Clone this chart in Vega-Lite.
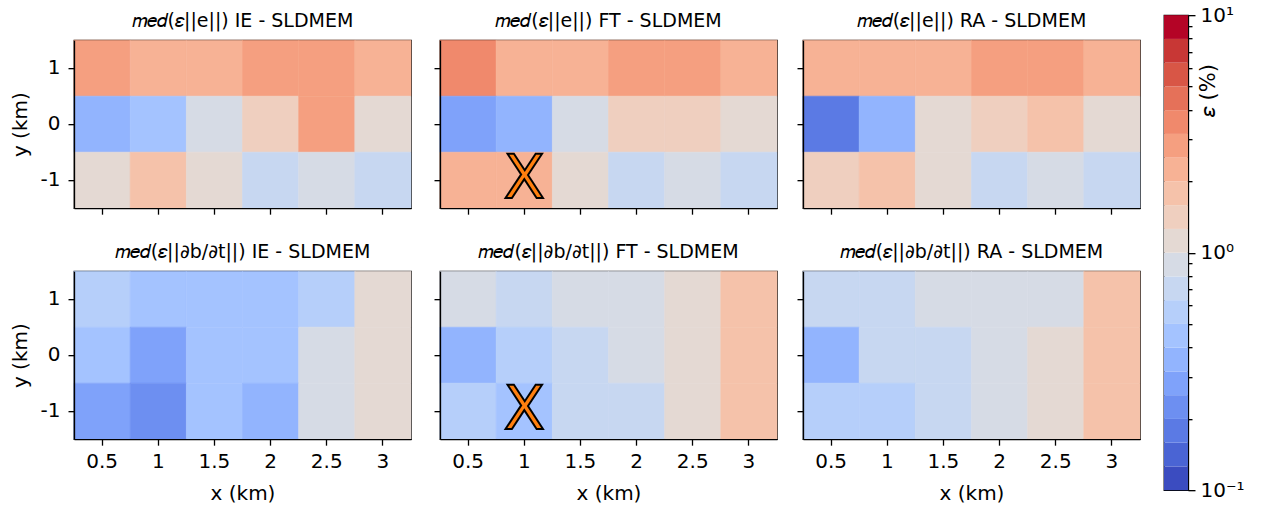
{
  "$schema": "https://vega.github.io/schema/vega-lite/v6.json",
  "padding": {"left": 9, "top": 4, "right": 5, "bottom": 0},
  "datasets": {
    "cells": [
      {"q":"e","m":"IE","x":0.5,"y":1,"v":2.85},{"q":"e","m":"IE","x":1,"y":1,"v":2.2},{"q":"e","m":"IE","x":1.5,"y":1,"v":2.3},{"q":"e","m":"IE","x":2,"y":1,"v":2.75},{"q":"e","m":"IE","x":2.5,"y":1,"v":2.9},{"q":"e","m":"IE","x":3,"y":1,"v":2.25},
      {"q":"e","m":"IE","x":0.5,"y":0,"v":0.36},{"q":"e","m":"IE","x":1,"y":0,"v":0.45},{"q":"e","m":"IE","x":1.5,"y":0,"v":0.9},{"q":"e","m":"IE","x":2,"y":0,"v":1.4},{"q":"e","m":"IE","x":2.5,"y":0,"v":2.7},{"q":"e","m":"IE","x":3,"y":0,"v":1.1},
      {"q":"e","m":"IE","x":0.5,"y":-1,"v":1.1},{"q":"e","m":"IE","x":1,"y":-1,"v":1.75},{"q":"e","m":"IE","x":1.5,"y":-1,"v":1.15},{"q":"e","m":"IE","x":2,"y":-1,"v":0.7},{"q":"e","m":"IE","x":2.5,"y":-1,"v":0.9},{"q":"e","m":"IE","x":3,"y":-1,"v":0.72},
      {"q":"e","m":"FT","x":0.5,"y":1,"v":3.5},{"q":"e","m":"FT","x":1,"y":1,"v":2.2},{"q":"e","m":"FT","x":1.5,"y":1,"v":2.3},{"q":"e","m":"FT","x":2,"y":1,"v":2.8},{"q":"e","m":"FT","x":2.5,"y":1,"v":2.85},{"q":"e","m":"FT","x":3,"y":1,"v":2.3},
      {"q":"e","m":"FT","x":0.5,"y":0,"v":0.29},{"q":"e","m":"FT","x":1,"y":0,"v":0.37},{"q":"e","m":"FT","x":1.5,"y":0,"v":0.88},{"q":"e","m":"FT","x":2,"y":0,"v":1.45},{"q":"e","m":"FT","x":2.5,"y":0,"v":1.4},{"q":"e","m":"FT","x":3,"y":0,"v":1.1},
      {"q":"e","m":"FT","x":0.5,"y":-1,"v":2.3},{"q":"e","m":"FT","x":1,"y":-1,"v":2.25},{"q":"e","m":"FT","x":1.5,"y":-1,"v":1.1},{"q":"e","m":"FT","x":2,"y":-1,"v":0.7},{"q":"e","m":"FT","x":2.5,"y":-1,"v":0.9},{"q":"e","m":"FT","x":3,"y":-1,"v":0.72},
      {"q":"e","m":"RA","x":0.5,"y":1,"v":2.3},{"q":"e","m":"RA","x":1,"y":1,"v":2.25},{"q":"e","m":"RA","x":1.5,"y":1,"v":2.2},{"q":"e","m":"RA","x":2,"y":1,"v":2.8},{"q":"e","m":"RA","x":2.5,"y":1,"v":2.9},{"q":"e","m":"RA","x":3,"y":1,"v":2.3},
      {"q":"e","m":"RA","x":0.5,"y":0,"v":0.18},{"q":"e","m":"RA","x":1,"y":0,"v":0.36},{"q":"e","m":"RA","x":1.5,"y":0,"v":1.12},{"q":"e","m":"RA","x":2,"y":0,"v":1.4},{"q":"e","m":"RA","x":2.5,"y":0,"v":1.7},{"q":"e","m":"RA","x":3,"y":0,"v":1.1},
      {"q":"e","m":"RA","x":0.5,"y":-1,"v":1.45},{"q":"e","m":"RA","x":1,"y":-1,"v":1.8},{"q":"e","m":"RA","x":1.5,"y":-1,"v":1.1},{"q":"e","m":"RA","x":2,"y":-1,"v":0.7},{"q":"e","m":"RA","x":2.5,"y":-1,"v":0.88},{"q":"e","m":"RA","x":3,"y":-1,"v":0.72},
      {"q":"b","m":"IE","x":0.5,"y":1,"v":0.58},{"q":"b","m":"IE","x":1,"y":1,"v":0.46},{"q":"b","m":"IE","x":1.5,"y":1,"v":0.45},{"q":"b","m":"IE","x":2,"y":1,"v":0.46},{"q":"b","m":"IE","x":2.5,"y":1,"v":0.56},{"q":"b","m":"IE","x":3,"y":1,"v":1.15},
      {"q":"b","m":"IE","x":0.5,"y":0,"v":0.44},{"q":"b","m":"IE","x":1,"y":0,"v":0.28},{"q":"b","m":"IE","x":1.5,"y":0,"v":0.46},{"q":"b","m":"IE","x":2,"y":0,"v":0.45},{"q":"b","m":"IE","x":2.5,"y":0,"v":0.9},{"q":"b","m":"IE","x":3,"y":0,"v":1.12},
      {"q":"b","m":"IE","x":0.5,"y":-1,"v":0.29},{"q":"b","m":"IE","x":1,"y":-1,"v":0.23},{"q":"b","m":"IE","x":1.5,"y":-1,"v":0.45},{"q":"b","m":"IE","x":2,"y":-1,"v":0.36},{"q":"b","m":"IE","x":2.5,"y":-1,"v":0.88},{"q":"b","m":"IE","x":3,"y":-1,"v":1.13},
      {"q":"b","m":"FT","x":0.5,"y":1,"v":0.9},{"q":"b","m":"FT","x":1,"y":1,"v":0.72},{"q":"b","m":"FT","x":1.5,"y":1,"v":0.88},{"q":"b","m":"FT","x":2,"y":1,"v":0.89},{"q":"b","m":"FT","x":2.5,"y":1,"v":1.1},{"q":"b","m":"FT","x":3,"y":1,"v":1.75},
      {"q":"b","m":"FT","x":0.5,"y":0,"v":0.36},{"q":"b","m":"FT","x":1,"y":0,"v":0.57},{"q":"b","m":"FT","x":1.5,"y":0,"v":0.7},{"q":"b","m":"FT","x":2,"y":0,"v":0.9},{"q":"b","m":"FT","x":2.5,"y":0,"v":1.12},{"q":"b","m":"FT","x":3,"y":0,"v":1.8},
      {"q":"b","m":"FT","x":0.5,"y":-1,"v":0.56},{"q":"b","m":"FT","x":1,"y":-1,"v":0.46},{"q":"b","m":"FT","x":1.5,"y":-1,"v":0.7},{"q":"b","m":"FT","x":2,"y":-1,"v":0.71},{"q":"b","m":"FT","x":2.5,"y":-1,"v":1.1},{"q":"b","m":"FT","x":3,"y":-1,"v":1.78},
      {"q":"b","m":"RA","x":0.5,"y":1,"v":0.7},{"q":"b","m":"RA","x":1,"y":1,"v":0.72},{"q":"b","m":"RA","x":1.5,"y":1,"v":0.9},{"q":"b","m":"RA","x":2,"y":1,"v":0.88},{"q":"b","m":"RA","x":2.5,"y":1,"v":0.9},{"q":"b","m":"RA","x":3,"y":1,"v":1.75},
      {"q":"b","m":"RA","x":0.5,"y":0,"v":0.36},{"q":"b","m":"RA","x":1,"y":0,"v":0.7},{"q":"b","m":"RA","x":1.5,"y":0,"v":0.72},{"q":"b","m":"RA","x":2,"y":0,"v":0.9},{"q":"b","m":"RA","x":2.5,"y":0,"v":1.1},{"q":"b","m":"RA","x":3,"y":0,"v":1.8},
      {"q":"b","m":"RA","x":0.5,"y":-1,"v":0.57},{"q":"b","m":"RA","x":1,"y":-1,"v":0.56},{"q":"b","m":"RA","x":1.5,"y":-1,"v":0.7},{"q":"b","m":"RA","x":2,"y":-1,"v":0.88},{"q":"b","m":"RA","x":2.5,"y":-1,"v":1.1},{"q":"b","m":"RA","x":3,"y":-1,"v":1.77}
    ],
    "markers": [{"x": 1, "y": -1, "label": "X"}],
    "levels": [
      {"lo":0.1,"hi":0.12589,"mid":0.1122},{"lo":0.12589,"hi":0.15849,"mid":0.1413},{"lo":0.15849,"hi":0.19953,"mid":0.1778},{"lo":0.19953,"hi":0.25119,"mid":0.2239},
      {"lo":0.25119,"hi":0.31623,"mid":0.2818},{"lo":0.31623,"hi":0.39811,"mid":0.3548},{"lo":0.39811,"hi":0.50119,"mid":0.4467},{"lo":0.50119,"hi":0.63096,"mid":0.5623},
      {"lo":0.63096,"hi":0.79433,"mid":0.7079},{"lo":0.79433,"hi":1,"mid":0.8913},{"lo":1,"hi":1.25893,"mid":1.122},{"lo":1.25893,"hi":1.58489,"mid":1.413},
      {"lo":1.58489,"hi":1.99526,"mid":1.778},{"lo":1.99526,"hi":2.51189,"mid":2.239},{"lo":2.51189,"hi":3.16228,"mid":2.818},{"lo":3.16228,"hi":3.98107,"mid":3.548},
      {"lo":3.98107,"hi":5.01187,"mid":4.467},{"lo":5.01187,"hi":6.30957,"mid":5.623},{"lo":6.30957,"hi":7.94328,"mid":7.079},{"lo":7.94328,"hi":10,"mid":8.913}
    ]
  },
  "hconcat": [
    {
      "vconcat": [
        {
          "hconcat": [
            {
              "width": 337, "height": 168,
              "title": "𝑚𝑒𝑑(𝜀||e||) IE - SLDMEM",
              "data": {"name": "cells"},
              "transform": [{"filter": "datum.q == 'e' && datum.m == 'IE'"}],
              "mark": {"type": "rect", "strokeWidth": 0.6},
              "encoding": {
                "x": {"field": "x", "type": "ordinal", "scale": {"paddingInner": 0, "paddingOuter": 0}, "axis": {"labels": false, "title": null}},
                "y": {"field": "y", "type": "ordinal", "sort": "descending", "scale": {"paddingInner": 0, "paddingOuter": 0}, "axis": {"title": "y (km)"}},
                "color": {"field": "v", "type": "quantitative", "legend": null,
                  "scale": {"type": "threshold", "domain": [0.12589,0.15849,0.19953,0.25119,0.31623,0.39811,0.50119,0.63096,0.79433,1,1.25893,1.58489,1.99526,2.51189,3.16228,3.98107,5.01187,6.30957,7.94328],
                  "range": ["#3b4cc0","#4a64d4","#5b7ae4","#6d8ff1","#7fa2fa","#92b4fe","#a4c3ff","#b6cffa","#c7d7f1","#d6dbe5","#e4d9d3","#efcfbf","#f5c2aa","#f7b295","#f59f80","#f0896c","#e57159","#d85646","#c83735","#b40426"]}},
                "stroke": {"field": "v", "type": "quantitative", "legend": null,
                  "scale": {"type": "threshold", "domain": [0.12589,0.15849,0.19953,0.25119,0.31623,0.39811,0.50119,0.63096,0.79433,1,1.25893,1.58489,1.99526,2.51189,3.16228,3.98107,5.01187,6.30957,7.94328],
                  "range": ["#3b4cc0","#4a64d4","#5b7ae4","#6d8ff1","#7fa2fa","#92b4fe","#a4c3ff","#b6cffa","#c7d7f1","#d6dbe5","#e4d9d3","#efcfbf","#f5c2aa","#f7b295","#f59f80","#f0896c","#e57159","#d85646","#c83735","#b40426"]}}
              }
            },
            {
              "hconcat": [
                {
                  "width": 337, "height": 168,
                  "title": "𝑚𝑒𝑑(𝜀||e||) FT - SLDMEM",
                  "layer": [
                    {
                      "data": {"name": "cells"},
                      "transform": [{"filter": "datum.q == 'e' && datum.m == 'FT'"}],
                      "mark": {"type": "rect", "strokeWidth": 0.6},
                      "encoding": {
                        "x": {"field": "x", "type": "ordinal", "scale": {"paddingInner": 0, "paddingOuter": 0}, "axis": {"labels": false, "title": null}},
                        "y": {"field": "y", "type": "ordinal", "sort": "descending", "scale": {"paddingInner": 0, "paddingOuter": 0}, "axis": {"labels": false, "title": null}},
                        "color": {"field": "v", "type": "quantitative", "legend": null,
                          "scale": {"type": "threshold", "domain": [0.12589,0.15849,0.19953,0.25119,0.31623,0.39811,0.50119,0.63096,0.79433,1,1.25893,1.58489,1.99526,2.51189,3.16228,3.98107,5.01187,6.30957,7.94328],
                          "range": ["#3b4cc0","#4a64d4","#5b7ae4","#6d8ff1","#7fa2fa","#92b4fe","#a4c3ff","#b6cffa","#c7d7f1","#d6dbe5","#e4d9d3","#efcfbf","#f5c2aa","#f7b295","#f59f80","#f0896c","#e57159","#d85646","#c83735","#b40426"]}},
                        "stroke": {"field": "v", "type": "quantitative", "legend": null,
                          "scale": {"type": "threshold", "domain": [0.12589,0.15849,0.19953,0.25119,0.31623,0.39811,0.50119,0.63096,0.79433,1,1.25893,1.58489,1.99526,2.51189,3.16228,3.98107,5.01187,6.30957,7.94328],
                          "range": ["#3b4cc0","#4a64d4","#5b7ae4","#6d8ff1","#7fa2fa","#92b4fe","#a4c3ff","#b6cffa","#c7d7f1","#d6dbe5","#e4d9d3","#efcfbf","#f5c2aa","#f7b295","#f59f80","#f0896c","#e57159","#d85646","#c83735","#b40426"]}}
                      }
                    },
                    {
                      "data": {"name": "markers"},
                      "mark": {"type": "text", "fontSize": 60, "fill": "#ff7f0e", "stroke": "black", "strokeWidth": 2, "baseline": "middle", "align": "center"},
                      "encoding": {
                        "x": {"field": "x", "type": "ordinal"},
                        "y": {"field": "y", "type": "ordinal", "sort": "descending"},
                        "text": {"field": "label"}
                      }
                    }
                  ]
                },
                {
                  "width": 337, "height": 168,
                  "title": "𝑚𝑒𝑑(𝜀||e||) RA - SLDMEM",
                  "data": {"name": "cells"},
                  "transform": [{"filter": "datum.q == 'e' && datum.m == 'RA'"}],
                  "mark": {"type": "rect", "strokeWidth": 0.6},
                  "encoding": {
                    "x": {"field": "x", "type": "ordinal", "scale": {"paddingInner": 0, "paddingOuter": 0}, "axis": {"labels": false, "title": null}},
                    "y": {"field": "y", "type": "ordinal", "sort": "descending", "scale": {"paddingInner": 0, "paddingOuter": 0}, "axis": {"labels": false, "title": null}},
                    "color": {"field": "v", "type": "quantitative", "legend": null,
                      "scale": {"type": "threshold", "domain": [0.12589,0.15849,0.19953,0.25119,0.31623,0.39811,0.50119,0.63096,0.79433,1,1.25893,1.58489,1.99526,2.51189,3.16228,3.98107,5.01187,6.30957,7.94328],
                      "range": ["#3b4cc0","#4a64d4","#5b7ae4","#6d8ff1","#7fa2fa","#92b4fe","#a4c3ff","#b6cffa","#c7d7f1","#d6dbe5","#e4d9d3","#efcfbf","#f5c2aa","#f7b295","#f59f80","#f0896c","#e57159","#d85646","#c83735","#b40426"]}},
                    "stroke": {"field": "v", "type": "quantitative", "legend": null,
                      "scale": {"type": "threshold", "domain": [0.12589,0.15849,0.19953,0.25119,0.31623,0.39811,0.50119,0.63096,0.79433,1,1.25893,1.58489,1.99526,2.51189,3.16228,3.98107,5.01187,6.30957,7.94328],
                      "range": ["#3b4cc0","#4a64d4","#5b7ae4","#6d8ff1","#7fa2fa","#92b4fe","#a4c3ff","#b6cffa","#c7d7f1","#d6dbe5","#e4d9d3","#efcfbf","#f5c2aa","#f7b295","#f59f80","#f0896c","#e57159","#d85646","#c83735","#b40426"]}}
                  }
                }
              ],
              "spacing": 17
            }
          ],
          "spacing": 20
        },
        {
          "hconcat": [
            {
              "width": 337, "height": 168,
              "title": "𝑚𝑒𝑑(𝜀||∂b/∂t||) IE - SLDMEM",
              "data": {"name": "cells"},
              "transform": [{"filter": "datum.q == 'b' && datum.m == 'IE'"}],
              "mark": {"type": "rect", "strokeWidth": 0.6},
              "encoding": {
                "x": {"field": "x", "type": "ordinal", "scale": {"paddingInner": 0, "paddingOuter": 0}, "axis": {"title": "x (km)"}},
                "y": {"field": "y", "type": "ordinal", "sort": "descending", "scale": {"paddingInner": 0, "paddingOuter": 0}, "axis": {"title": "y (km)"}},
                "color": {"field": "v", "type": "quantitative", "legend": null,
                  "scale": {"type": "threshold", "domain": [0.12589,0.15849,0.19953,0.25119,0.31623,0.39811,0.50119,0.63096,0.79433,1,1.25893,1.58489,1.99526,2.51189,3.16228,3.98107,5.01187,6.30957,7.94328],
                  "range": ["#3b4cc0","#4a64d4","#5b7ae4","#6d8ff1","#7fa2fa","#92b4fe","#a4c3ff","#b6cffa","#c7d7f1","#d6dbe5","#e4d9d3","#efcfbf","#f5c2aa","#f7b295","#f59f80","#f0896c","#e57159","#d85646","#c83735","#b40426"]}},
                "stroke": {"field": "v", "type": "quantitative", "legend": null,
                  "scale": {"type": "threshold", "domain": [0.12589,0.15849,0.19953,0.25119,0.31623,0.39811,0.50119,0.63096,0.79433,1,1.25893,1.58489,1.99526,2.51189,3.16228,3.98107,5.01187,6.30957,7.94328],
                  "range": ["#3b4cc0","#4a64d4","#5b7ae4","#6d8ff1","#7fa2fa","#92b4fe","#a4c3ff","#b6cffa","#c7d7f1","#d6dbe5","#e4d9d3","#efcfbf","#f5c2aa","#f7b295","#f59f80","#f0896c","#e57159","#d85646","#c83735","#b40426"]}}
              }
            },
            {
              "hconcat": [
                {
                  "width": 337, "height": 168,
                  "title": "𝑚𝑒𝑑(𝜀||∂b/∂t||) FT - SLDMEM",
                  "layer": [
                    {
                      "data": {"name": "cells"},
                      "transform": [{"filter": "datum.q == 'b' && datum.m == 'FT'"}],
                      "mark": {"type": "rect", "strokeWidth": 0.6},
                      "encoding": {
                        "x": {"field": "x", "type": "ordinal", "scale": {"paddingInner": 0, "paddingOuter": 0}, "axis": {"title": "x (km)"}},
                        "y": {"field": "y", "type": "ordinal", "sort": "descending", "scale": {"paddingInner": 0, "paddingOuter": 0}, "axis": {"labels": false, "title": null}},
                        "color": {"field": "v", "type": "quantitative", "legend": null,
                          "scale": {"type": "threshold", "domain": [0.12589,0.15849,0.19953,0.25119,0.31623,0.39811,0.50119,0.63096,0.79433,1,1.25893,1.58489,1.99526,2.51189,3.16228,3.98107,5.01187,6.30957,7.94328],
                          "range": ["#3b4cc0","#4a64d4","#5b7ae4","#6d8ff1","#7fa2fa","#92b4fe","#a4c3ff","#b6cffa","#c7d7f1","#d6dbe5","#e4d9d3","#efcfbf","#f5c2aa","#f7b295","#f59f80","#f0896c","#e57159","#d85646","#c83735","#b40426"]}},
                        "stroke": {"field": "v", "type": "quantitative", "legend": null,
                          "scale": {"type": "threshold", "domain": [0.12589,0.15849,0.19953,0.25119,0.31623,0.39811,0.50119,0.63096,0.79433,1,1.25893,1.58489,1.99526,2.51189,3.16228,3.98107,5.01187,6.30957,7.94328],
                          "range": ["#3b4cc0","#4a64d4","#5b7ae4","#6d8ff1","#7fa2fa","#92b4fe","#a4c3ff","#b6cffa","#c7d7f1","#d6dbe5","#e4d9d3","#efcfbf","#f5c2aa","#f7b295","#f59f80","#f0896c","#e57159","#d85646","#c83735","#b40426"]}}
                      }
                    },
                    {
                      "data": {"name": "markers"},
                      "mark": {"type": "text", "fontSize": 60, "fill": "#ff7f0e", "stroke": "black", "strokeWidth": 2, "baseline": "middle", "align": "center"},
                      "encoding": {
                        "x": {"field": "x", "type": "ordinal"},
                        "y": {"field": "y", "type": "ordinal", "sort": "descending"},
                        "text": {"field": "label"}
                      }
                    }
                  ]
                },
                {
                  "width": 337, "height": 168,
                  "title": "𝑚𝑒𝑑(𝜀||∂b/∂t||) RA - SLDMEM",
                  "data": {"name": "cells"},
                  "transform": [{"filter": "datum.q == 'b' && datum.m == 'RA'"}],
                  "mark": {"type": "rect", "strokeWidth": 0.6},
                  "encoding": {
                    "x": {"field": "x", "type": "ordinal", "scale": {"paddingInner": 0, "paddingOuter": 0}, "axis": {"title": "x (km)"}},
                    "y": {"field": "y", "type": "ordinal", "sort": "descending", "scale": {"paddingInner": 0, "paddingOuter": 0}, "axis": {"labels": false, "title": null}},
                    "color": {"field": "v", "type": "quantitative", "legend": null,
                      "scale": {"type": "threshold", "domain": [0.12589,0.15849,0.19953,0.25119,0.31623,0.39811,0.50119,0.63096,0.79433,1,1.25893,1.58489,1.99526,2.51189,3.16228,3.98107,5.01187,6.30957,7.94328],
                      "range": ["#3b4cc0","#4a64d4","#5b7ae4","#6d8ff1","#7fa2fa","#92b4fe","#a4c3ff","#b6cffa","#c7d7f1","#d6dbe5","#e4d9d3","#efcfbf","#f5c2aa","#f7b295","#f59f80","#f0896c","#e57159","#d85646","#c83735","#b40426"]}},
                    "stroke": {"field": "v", "type": "quantitative", "legend": null,
                      "scale": {"type": "threshold", "domain": [0.12589,0.15849,0.19953,0.25119,0.31623,0.39811,0.50119,0.63096,0.79433,1,1.25893,1.58489,1.99526,2.51189,3.16228,3.98107,5.01187,6.30957,7.94328],
                      "range": ["#3b4cc0","#4a64d4","#5b7ae4","#6d8ff1","#7fa2fa","#92b4fe","#a4c3ff","#b6cffa","#c7d7f1","#d6dbe5","#e4d9d3","#efcfbf","#f5c2aa","#f7b295","#f59f80","#f0896c","#e57159","#d85646","#c83735","#b40426"]}}
                  }
                }
              ],
              "spacing": 17
            }
          ],
          "spacing": 20
        }
      ],
      "spacing": 26
    },
    {
      "width": 24, "height": 475,
      "title": {"text": " ", "orient": "bottom", "fontSize": 20, "offset": 8},
      "data": {"name": "levels"},
      "mark": "rect",
      "encoding": {
        "y": {"field": "lo", "type": "quantitative", "scale": {"type": "log", "domain": [0.1, 10], "nice": false},
          "axis": {"orient": "right", "title": "𝜀 (%)", "titleFontSize": 21, "titleAngle": 270, "titleX": 30, "titleY": 75, "titleAlign": "center", "titleBaseline": "bottom",
            "values": [0.1,0.2,0.3,0.4,0.5,0.6,0.7,0.8,0.9,1,2,3,4,5,6,7,8,9,10],
            "labelExpr": "datum.value == 0.1 ? '10⁻¹' : datum.value == 1 ? '10⁰' : datum.value == 10 ? '10¹' : ''",
            "tickSize": {"condition": {"test": "datum.value == 0.1 || datum.value == 1 || datum.value == 10", "value": 7}, "value": 4},
            "labelPadding": 5, "labelFlush": false, "labelOverlap": false}},
        "y2": {"field": "hi"},
        "color": {"field": "mid", "type": "quantitative", "legend": null,
          "scale": {"type": "threshold", "domain": [0.12589,0.15849,0.19953,0.25119,0.31623,0.39811,0.50119,0.63096,0.79433,1,1.25893,1.58489,1.99526,2.51189,3.16228,3.98107,5.01187,6.30957,7.94328],
          "range": ["#3b4cc0","#4a64d4","#5b7ae4","#6d8ff1","#7fa2fa","#92b4fe","#a4c3ff","#b6cffa","#c7d7f1","#d6dbe5","#e4d9d3","#efcfbf","#f5c2aa","#f7b295","#f59f80","#f0896c","#e57159","#d85646","#c83735","#b40426"]}}
      }
    }
  ],
  "spacing": 22,
  "center": true,
  "config": {
    "font": "DejaVu Sans",
    "background": "white",
    "view": {"stroke": "black", "strokeWidth": 1.3},
    "axis": {"domainColor": "black", "domainWidth": 1.3, "tickColor": "black", "tickWidth": 1.3, "tickSize": 6,
      "labelColor": "black", "labelFontSize": 20, "labelFont": "DejaVu Sans", "labelAngle": 0, "labelPadding": 6,
      "titleFont": "DejaVu Sans", "titleFontSize": 20, "titleFontWeight": "normal", "titleColor": "black", "grid": false},
    "axisX": {"titlePadding": 12},
    "axisY": {"labelPadding": 8, "titlePadding": 10},
    "title": {"fontSize": 19, "fontWeight": "normal", "color": "black", "font": "DejaVu Sans", "baseline": "alphabetic", "offset": 9}
  }
}
